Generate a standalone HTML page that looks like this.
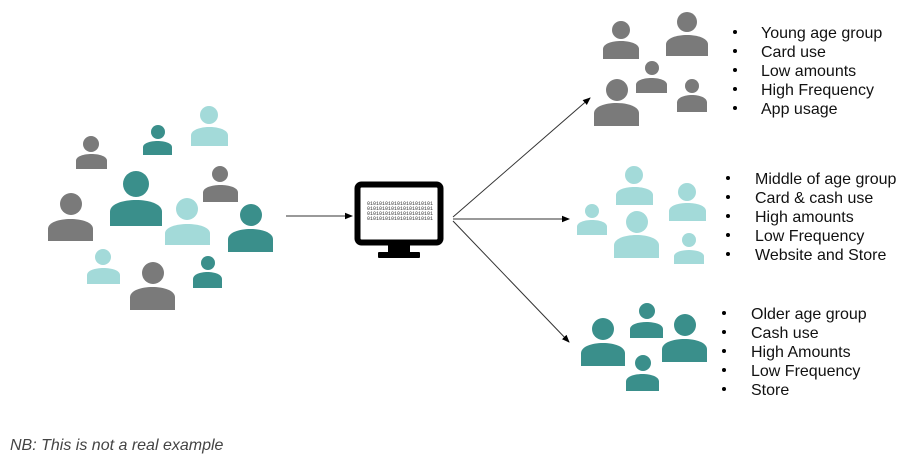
<!DOCTYPE html>
<html><head><meta charset="utf-8"><style>
body{margin:0;background:#fff;width:902px;height:461px;overflow:hidden;font-family:"Liberation Sans",sans-serif}
</style></head><body>
<svg width="902" height="461" xmlns="http://www.w3.org/2000/svg">
<defs>
<marker id="ah" markerWidth="8" markerHeight="8" refX="7" refY="4" orient="auto" markerUnits="userSpaceOnUse"><path d="M0,0.8 L8,4 L0,7.2 Z" fill="#000"/></marker>
</defs>
<g id="people"></g>
<rect x="357.5" y="184.5" width="83" height="58" rx="4" fill="#fff" stroke="#000" stroke-width="6"/>
<rect x="388" y="245" width="22" height="9" fill="#000"/>
<rect x="378" y="252" width="42" height="6" rx="1" fill="#000"/>
<g font-family="Liberation Mono,monospace" font-size="5" fill="#333">
<text x="367" y="205">0101010101010101010101</text>
<text x="367" y="210">0101010101010101010101</text>
<text x="367" y="215">0101010101010101010101</text>
<text x="367" y="220">0101010101010101010101</text>
</g>
<g stroke="#333" stroke-width="1" marker-end="url(#ah)">
<line x1="286" y1="216" x2="352" y2="216"/>
<line x1="453" y1="217" x2="590" y2="98"/>
<line x1="453" y1="219" x2="569" y2="219"/>
<line x1="453" y1="221" x2="569" y2="342"/>
</g>
<g font-size="16" fill="#111">
<g><text x="761" y="38">Young age group</text><text x="761" y="57">Card use</text><text x="761" y="76">Low amounts</text><text x="761" y="95">High Frequency</text><text x="761" y="114">App usage</text></g>
<g><text x="755" y="184">Middle of age group</text><text x="755" y="203">Card &amp; cash use</text><text x="755" y="222">High amounts</text><text x="755" y="241">Low Frequency</text><text x="755" y="260">Website and Store</text></g>
<g><text x="751" y="319">Older age group</text><text x="751" y="338">Cash use</text><text x="751" y="357">High Amounts</text><text x="751" y="376">Low Frequency</text><text x="751" y="395">Store</text></g>
</g>
<g fill="#000">
<circle cx="735" cy="32" r="2"/><circle cx="735" cy="51" r="2"/><circle cx="735" cy="70" r="2"/><circle cx="735" cy="89" r="2"/><circle cx="735" cy="108" r="2"/>
<circle cx="728" cy="178" r="2"/><circle cx="728" cy="197" r="2"/><circle cx="728" cy="216" r="2"/><circle cx="728" cy="235" r="2"/><circle cx="728" cy="254" r="2"/>
<circle cx="724" cy="313" r="2"/><circle cx="724" cy="332" r="2"/><circle cx="724" cy="351" r="2"/><circle cx="724" cy="370" r="2"/><circle cx="724" cy="389" r="2"/>
</g>
<text x="10" y="450" font-size="16" font-style="italic" fill="#444">NB: This is not a real example</text>
</svg>
<script>
var G='#7a7a7a',T='#3a8f8b',L='#a3dad9';
var P=[
[91,144,8,76,107,154,169,G],[158,132,7,143,172,141,155,T],[209,115,9,191,228,127,146,L],
[220,174,8,203,238,185,202,G],[136,184,13,110,162,200,226,T],[71,204,11,48,93,219,241,G],
[187,209,11,165,210,224,245,L],[251,215,11,228,273,229,252,T],[103,257,8,87,120,268,284,L],
[153,273,11,130,175,287,310,G],[208,263,7,193,222,272,288,T],
[621,30,9,603,639,41,59,G],[687,22,10,666,708,35,56,G],[652,68,7,636,667,78,93,G],
[617,90,11,594,639,103,126,G],[692,86,7,677,707,95,112,G],
[634,175,9,616,653,187,205,L],[687,192,9,669,706,203,221,L],[592,211,7,577,607,220,235,L],
[637,222,11,614,659,235,258,L],[689,240,7,674,704,250,264,L],
[647,311,8,630,663,322,338,T],[603,329,11,581,625,343,366,T],[685,325,11,662,707,339,362,T],[643,363,8,626,659,374,391,T]];
var s='';
P.forEach(function(p){var h=p[6]-p[5];var m=p[5]+0.45*h;
s+='<circle cx="'+p[0]+'" cy="'+p[1]+'" r="'+p[2]+'" fill="'+p[7]+'"/>';
s+='<path d="M'+p[3]+','+p[6]+' L'+p[3]+','+m+' C'+p[3]+','+(p[5]-0.15*h)+' '+p[4]+','+(p[5]-0.15*h)+' '+p[4]+','+m+' L'+p[4]+','+p[6]+' Z" fill="'+p[7]+'"/>';});
document.getElementById('people').innerHTML=s;
</script>
</body></html>
